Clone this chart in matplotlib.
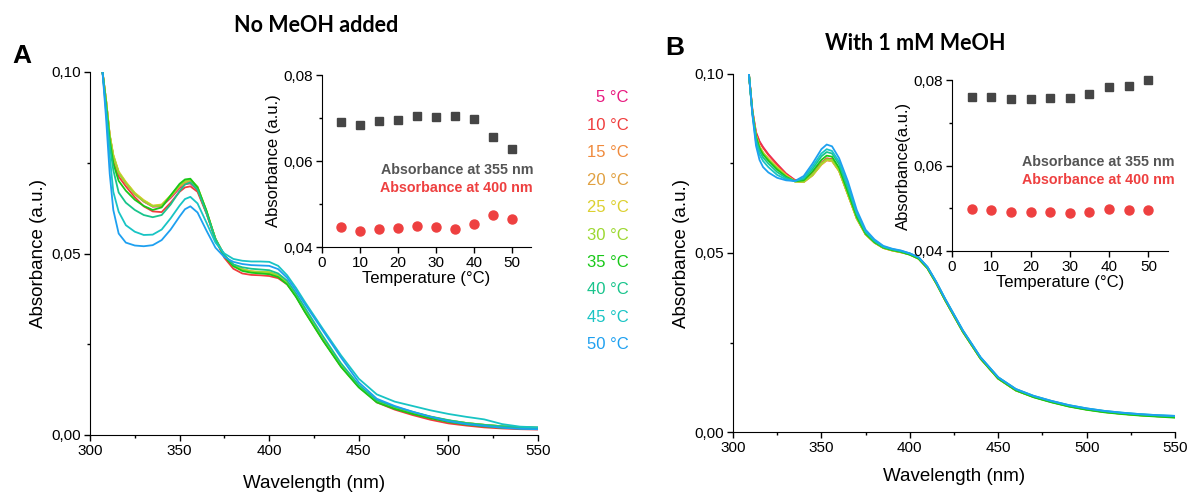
import matplotlib.pyplot as plt
from matplotlib.ticker import MultipleLocator, FuncFormatter

plt.rcParams['font.family'] = ['Liberation Sans', 'DejaVu Sans']

# wavelength grids (nm)
wl_a = [307, 309, 311, 313, 316, 320, 325, 330, 335, 340, 345, 350, 353, 356, 360, 365,
        370, 375, 380, 385, 390, 395, 400, 405, 410, 415, 420, 430, 440, 450, 460,
        470, 480, 490, 500, 510, 520, 530, 540, 550]
wl_b = [309, 311, 313, 315, 317, 320, 325, 330, 335, 340, 345, 350, 353, 356, 360, 365,
        370, 375, 380, 385, 390, 395, 400, 405, 410, 415, 420, 430, 440, 450, 460,
        470, 480, 490, 500, 510, 520, 530, 540, 550]

temps = [5, 10, 15, 20, 25, 30, 35, 40, 45, 50]
temp_labels = ['5 °C', '10 °C', '15 °C', '20 °C', '25 °C', '30 °C', '35 °C', '40 °C', '45 °C', '50 °C']
colors = ['#e8197f', '#f03c3c', '#f08a3c', '#e0a040', '#dcd030',
          '#9cd830', '#18c818', '#18c48c', '#18c4c4', '#1ea0f0']

# panel A - no MeOH
spec_a_05 = [0.100, 0.092, 0.0825, 0.0768, 0.0722, 0.0694, 0.0664, 0.0643, 0.0629, 0.0630, 0.0653, 0.0680, 0.0691, 0.0693, 0.0675, 0.0612,
             0.0540, 0.0494, 0.0468, 0.0456, 0.0450, 0.0448, 0.0446, 0.0438, 0.0418, 0.0382, 0.0340, 0.0262, 0.0190, 0.0133, 0.0093,
             0.0074, 0.0060, 0.0048, 0.0038, 0.0031, 0.0026, 0.0022, 0.0020, 0.0019]
spec_a_10 = [0.100, 0.091, 0.0815, 0.0755, 0.0712, 0.0685, 0.0655, 0.0630, 0.0616, 0.0614, 0.0640, 0.0670, 0.0682, 0.0685, 0.0670, 0.0610,
             0.0538, 0.0488, 0.0458, 0.0445, 0.0441, 0.0440, 0.0438, 0.0432, 0.0415, 0.0383, 0.0343, 0.0265, 0.0192, 0.0135, 0.0090,
             0.0070, 0.0055, 0.0042, 0.0032, 0.0026, 0.0021, 0.0018, 0.0016, 0.0015]
spec_a_15 = [0.100, 0.092, 0.0825, 0.0768, 0.0722, 0.0695, 0.0665, 0.0645, 0.0630, 0.0632, 0.0656, 0.0684, 0.0694, 0.0697, 0.0678, 0.0614,
             0.0540, 0.0494, 0.0468, 0.0456, 0.0450, 0.0448, 0.0446, 0.0438, 0.0418, 0.0382, 0.0340, 0.0262, 0.0190, 0.0133, 0.0093,
             0.0075, 0.0061, 0.0049, 0.0039, 0.0032, 0.0027, 0.0023, 0.0021, 0.0020]
spec_a_20 = [0.100, 0.092, 0.0826, 0.0770, 0.0724, 0.0696, 0.0666, 0.0646, 0.0631, 0.0633, 0.0657, 0.0685, 0.0696, 0.0699, 0.0680, 0.0615,
             0.0540, 0.0494, 0.0468, 0.0456, 0.0450, 0.0448, 0.0447, 0.0439, 0.0419, 0.0383, 0.0341, 0.0263, 0.0191, 0.0134, 0.0094,
             0.0076, 0.0062, 0.0050, 0.0040, 0.0033, 0.0028, 0.0024, 0.0021, 0.0020]
spec_a_25 = [0.100, 0.092, 0.0828, 0.0772, 0.0726, 0.0697, 0.0667, 0.0647, 0.0632, 0.0635, 0.0660, 0.0689, 0.0701, 0.0704, 0.0684, 0.0617,
             0.0541, 0.0495, 0.0469, 0.0457, 0.0451, 0.0450, 0.0449, 0.0440, 0.0420, 0.0384, 0.0342, 0.0263, 0.0191, 0.0134, 0.0094,
             0.0076, 0.0062, 0.0050, 0.0040, 0.0033, 0.0028, 0.0024, 0.0021, 0.0020]
spec_a_30 = [0.100, 0.092, 0.0825, 0.0768, 0.0722, 0.0694, 0.0664, 0.0644, 0.0630, 0.0633, 0.0659, 0.0688, 0.0700, 0.0703, 0.0683, 0.0616,
             0.0540, 0.0494, 0.0468, 0.0456, 0.0450, 0.0449, 0.0448, 0.0440, 0.0420, 0.0384, 0.0342, 0.0263, 0.0191, 0.0134, 0.0094,
             0.0076, 0.0062, 0.0050, 0.0040, 0.0033, 0.0028, 0.0024, 0.0021, 0.0020]
spec_a_35 = [0.100, 0.091, 0.0813, 0.0748, 0.0700, 0.0673, 0.0648, 0.0631, 0.0620, 0.0627, 0.0660, 0.0692, 0.0704, 0.0706, 0.0682, 0.0618,
             0.0538, 0.0492, 0.0465, 0.0452, 0.0447, 0.0445, 0.0443, 0.0435, 0.0415, 0.0380, 0.0338, 0.0260, 0.0188, 0.0131, 0.0090,
             0.0072, 0.0058, 0.0046, 0.0036, 0.0029, 0.0024, 0.0020, 0.0018, 0.0017]
spec_a_40 = [0.100, 0.090, 0.0800, 0.0730, 0.0668, 0.0640, 0.0620, 0.0606, 0.0600, 0.0606, 0.0635, 0.0672, 0.0690, 0.0696, 0.0676, 0.0612,
             0.0540, 0.0495, 0.0470, 0.0462, 0.0458, 0.0456, 0.0454, 0.0445, 0.0425, 0.0390, 0.0350, 0.0272, 0.0198, 0.0138, 0.0096,
             0.0078, 0.0064, 0.0051, 0.0041, 0.0033, 0.0028, 0.0024, 0.0022, 0.0020]
spec_a_45 = [0.100, 0.089, 0.0770, 0.0670, 0.0615, 0.0578, 0.0560, 0.0551, 0.0552, 0.0566, 0.0597, 0.0632, 0.0650, 0.0656, 0.0638, 0.0585,
             0.0530, 0.0500, 0.0485, 0.0480, 0.0478, 0.0478, 0.0477, 0.0466, 0.0440, 0.0405, 0.0366, 0.0292, 0.0220, 0.0155, 0.0112,
             0.0092, 0.0080, 0.0068, 0.0058, 0.0050, 0.0043, 0.0030, 0.0023, 0.0021]
spec_a_50 = [0.100, 0.087, 0.0720, 0.0620, 0.0555, 0.0530, 0.0522, 0.0520, 0.0523, 0.0537, 0.0566, 0.0602, 0.0622, 0.0630, 0.0613, 0.0563,
             0.0516, 0.0490, 0.0477, 0.0471, 0.0468, 0.0467, 0.0466, 0.0457, 0.0433, 0.0398, 0.0360, 0.0287, 0.0214, 0.0145, 0.0100,
             0.0080, 0.0064, 0.0050, 0.0038, 0.0030, 0.0025, 0.0020, 0.0017, 0.0016]

# panel B - 1 mM MeOH
spec_b_05 = [0.100, 0.0898, 0.0838, 0.0812, 0.0796, 0.0776, 0.0748, 0.0722, 0.0704, 0.0702, 0.0722, 0.0752, 0.0764, 0.0762, 0.0732, 0.0665,
             0.0598, 0.0553, 0.0530, 0.0515, 0.0508, 0.0503, 0.0498, 0.0486, 0.0459, 0.0417, 0.0369, 0.0281, 0.0206, 0.0150, 0.0117,
             0.0099, 0.0085, 0.0073, 0.0064, 0.0057, 0.0052, 0.0048, 0.0045, 0.0043]
spec_b_10 = [0.100, 0.0897, 0.0835, 0.0810, 0.0794, 0.0774, 0.0747, 0.0721, 0.0703, 0.0702, 0.0722, 0.0752, 0.0764, 0.0762, 0.0732, 0.0665,
             0.0598, 0.0553, 0.0530, 0.0515, 0.0508, 0.0503, 0.0497, 0.0486, 0.0459, 0.0417, 0.0369, 0.0281, 0.0206, 0.0150, 0.0117,
             0.0099, 0.0085, 0.0073, 0.0064, 0.0057, 0.0052, 0.0048, 0.0045, 0.0043]
spec_b_15 = [0.100, 0.0893, 0.0828, 0.0797, 0.0780, 0.0763, 0.0739, 0.0717, 0.0701, 0.0698, 0.0717, 0.0747, 0.0759, 0.0757, 0.0729, 0.0663,
             0.0596, 0.0552, 0.0529, 0.0514, 0.0507, 0.0502, 0.0496, 0.0484, 0.0457, 0.0415, 0.0368, 0.0280, 0.0205, 0.0149, 0.0116,
             0.0098, 0.0084, 0.0072, 0.0063, 0.0056, 0.0051, 0.0047, 0.0044, 0.0042]
spec_b_20 = [0.100, 0.0893, 0.0828, 0.0797, 0.0780, 0.0763, 0.0739, 0.0717, 0.0700, 0.0698, 0.0717, 0.0747, 0.0759, 0.0757, 0.0729, 0.0663,
             0.0596, 0.0552, 0.0529, 0.0514, 0.0507, 0.0502, 0.0496, 0.0484, 0.0457, 0.0415, 0.0368, 0.0280, 0.0205, 0.0149, 0.0116,
             0.0098, 0.0084, 0.0072, 0.0063, 0.0056, 0.0051, 0.0047, 0.0044, 0.0042]
spec_b_25 = [0.100, 0.0893, 0.0828, 0.0797, 0.0780, 0.0763, 0.0739, 0.0717, 0.0700, 0.0699, 0.0718, 0.0748, 0.0760, 0.0758, 0.0730, 0.0664,
             0.0597, 0.0552, 0.0529, 0.0514, 0.0507, 0.0502, 0.0496, 0.0484, 0.0457, 0.0415, 0.0368, 0.0280, 0.0205, 0.0149, 0.0116,
             0.0098, 0.0084, 0.0072, 0.0063, 0.0056, 0.0051, 0.0047, 0.0044, 0.0042]
spec_b_30 = [0.100, 0.0893, 0.0827, 0.0796, 0.0779, 0.0761, 0.0737, 0.0715, 0.0700, 0.0699, 0.0719, 0.0750, 0.0762, 0.0760, 0.0731, 0.0665,
             0.0597, 0.0553, 0.0530, 0.0515, 0.0508, 0.0503, 0.0496, 0.0485, 0.0458, 0.0416, 0.0369, 0.0281, 0.0206, 0.0150, 0.0117,
             0.0098, 0.0084, 0.0072, 0.0063, 0.0056, 0.0051, 0.0047, 0.0044, 0.0041]
spec_b_35 = [0.100, 0.0892, 0.0825, 0.0793, 0.0775, 0.0758, 0.0733, 0.0713, 0.0700, 0.0703, 0.0728, 0.0760, 0.0772, 0.0769, 0.0738, 0.0670,
             0.0601, 0.0554, 0.0530, 0.0515, 0.0508, 0.0503, 0.0495, 0.0484, 0.0457, 0.0415, 0.0368, 0.0280, 0.0205, 0.0149, 0.0116,
             0.0097, 0.0083, 0.0071, 0.0062, 0.0055, 0.0050, 0.0046, 0.0043, 0.0040]
spec_b_40 = [0.100, 0.0890, 0.0818, 0.0785, 0.0767, 0.0750, 0.0726, 0.0710, 0.0701, 0.0707, 0.0735, 0.0770, 0.0782, 0.0778, 0.0748, 0.0680,
             0.0608, 0.0558, 0.0533, 0.0517, 0.0510, 0.0505, 0.0498, 0.0487, 0.0460, 0.0418, 0.0371, 0.0283, 0.0208, 0.0152, 0.0119,
             0.0100, 0.0086, 0.0074, 0.0065, 0.0058, 0.0053, 0.0049, 0.0046, 0.0044]
spec_b_45 = [0.100, 0.0888, 0.0810, 0.0775, 0.0757, 0.0740, 0.0718, 0.0706, 0.0701, 0.0710, 0.0742, 0.0778, 0.0790, 0.0785, 0.0755, 0.0690,
             0.0612, 0.0560, 0.0535, 0.0518, 0.0511, 0.0506, 0.0499, 0.0488, 0.0461, 0.0419, 0.0372, 0.0284, 0.0209, 0.0153, 0.0120,
             0.0101, 0.0087, 0.0075, 0.0066, 0.0059, 0.0054, 0.0050, 0.0047, 0.0045]
spec_b_50 = [0.100, 0.0885, 0.0800, 0.0760, 0.0740, 0.0725, 0.0710, 0.0703, 0.0701, 0.0715, 0.0750, 0.0790, 0.0803, 0.0798, 0.0765, 0.0700,
             0.0620, 0.0565, 0.0538, 0.0520, 0.0512, 0.0507, 0.0499, 0.0488, 0.0461, 0.0419, 0.0372, 0.0284, 0.0209, 0.0153, 0.0120,
             0.0101, 0.0087, 0.0075, 0.0066, 0.0059, 0.0054, 0.0050, 0.0047, 0.0045]

spectra_a = [spec_a_05, spec_a_10, spec_a_15, spec_a_20, spec_a_25, spec_a_30, spec_a_35, spec_a_40, spec_a_45, spec_a_50]
spectra_b = [spec_b_05, spec_b_10, spec_b_15, spec_b_20, spec_b_25, spec_b_30, spec_b_35, spec_b_40, spec_b_45, spec_b_50]

# inset data
abs355_a = [0.0691, 0.0683, 0.0694, 0.0696, 0.0704, 0.0703, 0.0705, 0.0697, 0.0656, 0.0628]
abs400_a = [0.0446, 0.0437, 0.0443, 0.0444, 0.0449, 0.0446, 0.0441, 0.0453, 0.0475, 0.0465]
abs355_b = [0.0760, 0.0760, 0.0756, 0.0756, 0.0757, 0.0759, 0.0767, 0.0783, 0.0787, 0.0800]
abs400_b = [0.0498, 0.0496, 0.0492, 0.0492, 0.0492, 0.0488, 0.0491, 0.0498, 0.0495, 0.0495]

W, H = 1188, 493
fig = plt.figure(figsize=(W / 100, H / 100), dpi=100)


def comma(v, pos):
    return ('%.2f' % v).replace('.', ',')


def style(ax, fs):
    for s in ['top', 'right']:
        ax.spines[s].set_visible(False)
    ax.tick_params(which='major', direction='out', length=4, width=1, labelsize=fs, pad=2.5)
    ax.tick_params(which='minor', direction='out', length=2.5, width=1)
    ax.yaxis.set_major_formatter(FuncFormatter(comma))


def px_axes(x0, x1, y0, y1):
    # pixel box -> figure fraction
    return fig.add_axes([x0 / W, 1 - y1 / H, (x1 - x0) / W, (y1 - y0) / H])


def main_panel(box, wl, spectra, xlab_pad):
    ax = px_axes(*box)
    for spec, c in zip(spectra, colors):
        ax.plot(wl, spec, color=c, lw=1.3)
    ax.set_xlim(300, 550)
    ax.set_ylim(0, 0.10)
    ax.xaxis.set_major_locator(MultipleLocator(50))
    ax.xaxis.set_minor_locator(MultipleLocator(25))
    ax.yaxis.set_major_locator(MultipleLocator(0.05))
    ax.yaxis.set_minor_locator(MultipleLocator(0.025))
    style(ax, 11)
    ax.set_xlabel('Wavelength (nm)', fontsize=13.5, labelpad=xlab_pad)
    ax.set_ylabel('Absorbance (a.u.)', fontsize=13.5, labelpad=3)
    return ax


def inset(box, a355, a400, ylab, txt_x, txt_y):
    ax = px_axes(*box)
    ax.patch.set_alpha(0)
    ax.plot(temps, a355, 's', color='#454545', ms=6, ls='none', clip_on=False)
    ax.plot(temps, a400, 'o', color='#ee4040', ms=6.5, ls='none', clip_on=False)
    ax.set_xlim(0, 55)
    ax.set_ylim(0.04, 0.08)
    ax.xaxis.set_major_locator(MultipleLocator(10))
    ax.yaxis.set_major_locator(MultipleLocator(0.02))
    ax.yaxis.set_minor_locator(MultipleLocator(0.01))
    style(ax, 11)
    ax.set_xlabel('Temperature (°C)', fontsize=12, labelpad=1)
    ax.set_ylabel(ylab, fontsize=12, labelpad=2)
    ax.text(txt_x, txt_y, 'Absorbance at 355 nm', transform=ax.transAxes, ha='right',
            va='center', color='#555555', fontsize=10.3, fontweight='bold')
    ax.text(txt_x, txt_y - 0.105, 'Absorbance at 400 nm', transform=ax.transAxes, ha='right',
            va='center', color='#ee4040', fontsize=10.3, fontweight='bold')
    return ax


main_panel((90, 538, 72, 435), wl_a, spectra_a, 12)
main_panel((733, 1175, 74, 432), wl_b, spectra_b, 9)
inset((322, 531, 75, 247), abs355_a, abs400_a, 'Absorbance (a.u.)', 1.01, 0.45)
inset((952, 1168, 80, 251), abs355_b, abs400_b, 'Absorbance(a.u.)', 1.03, 0.52)

# panel titles and letters
fig.text(316 / W, 1 - 25 / H, 'No MeOH added', ha='center', va='center',
         fontsize=15.5, fontweight='bold', family=['Lato', 'DejaVu Sans'])
fig.text(915 / W, 1 - 44 / H, 'With 1 mM MeOH', ha='center', va='center',
         fontsize=15.5, fontweight='bold', family=['Lato', 'DejaVu Sans'])
fig.text(22 / W, 1 - 56 / H, 'A', ha='center', va='center', fontsize=19, fontweight='bold')
fig.text(675 / W, 1 - 48 / H, 'B', ha='center', va='center', fontsize=19, fontweight='bold')

# temperature colour key
for i, (lab, c) in enumerate(zip(temp_labels, colors)):
    fig.text(629 / W, 1 - (98 + i * 27.4) / H, lab, ha='right', va='center',
             fontsize=12, color=c)

fig.savefig('out.png', dpi=100)
